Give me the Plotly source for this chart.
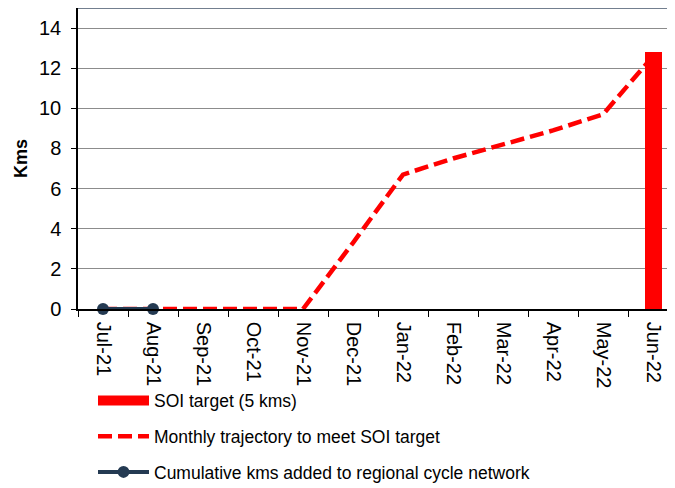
import plotly.graph_objects as go

months = ['Jul-21', 'Aug-21', 'Sep-21', 'Oct-21', 'Nov-21', 'Dec-21',
          'Jan-22', 'Feb-22', 'Mar-22', 'Apr-22', 'May-22', 'Jun-22']
soi_target = [None, None, None, None, None, None, None, None, None, None, None, 12.8]
trajectory = [0, 0, 0, 0, 0, 3.3, 6.7, 7.5, 8.2, 8.9, 9.7, 12.6]
cumulative = [0, 0]

FONT = 'Liberation Sans, Arial, sans-serif'
NAVY = '#243a52'

fig = go.Figure()

fig.add_trace(go.Bar(x=months, y=soi_target, width=0.34, marker=dict(color='#ff0000', line=dict(width=0)),
                     showlegend=False, name='SOI target (5 kms)'))
# legend-only entry so the key looks like a thick bar
fig.add_trace(go.Scatter(x=[None], y=[None], mode='lines', name='SOI target (5 kms)',
                         line=dict(color='#ff0000', width=10), legendgroup='a'))
fig.add_trace(go.Scatter(x=months, y=trajectory, mode='lines', name='Monthly trajectory to meet SOI target',
                         line=dict(color='#ff0000', width=4.5, dash='14px,6px'), legendgroup='b'))
fig.add_trace(go.Scatter(x=months[:len(cumulative)], y=cumulative, mode='lines+markers',
                         name='Cumulative kms added to regional cycle network',
                         line=dict(color=NAVY, width=4), marker=dict(color=NAVY, size=12),
                         legendgroup='c', cliponaxis=False))

# the page puts the figure 8px in from the top-left corner, margins allow for that
fig.update_layout(
    width=675, height=488,
    margin=dict(l=70, r=5, t=0, b=187),
    plot_bgcolor='white', paper_bgcolor='white',
    font=dict(family=FONT, size=20, color='black'),
    bargap=0,
    legend=dict(x=0.025, y=1 - 374.5 / 488, xref='paper', yref='container',
                xanchor='left', yanchor='top', orientation='v',
                font=dict(size=17.5), itemwidth=51, tracegroupgap=10,
                bgcolor='rgba(0,0,0,0)'),
    shapes=[dict(type='line', xref='paper', yref='paper', x0=0, x1=1, y0=1, y1=1,
                 line=dict(color='#44546a', width=1.5))],
)

fig.update_xaxes(type='category', categoryorder='array', categoryarray=months,
                 range=[-0.5, 11.5], tickangle=90, tickson='boundaries',
                 ticks='outside', ticklen=6, tickcolor='black', tickwidth=1,
                 ticklabelstandoff=7,
                 showline=True, linecolor='black', linewidth=1.5, showgrid=False,
                 automargin=False)
fig.update_yaxes(range=[0, 15], tickvals=list(range(0, 15, 2)),
                 ticks='outside', ticklen=5, tickcolor='black', tickwidth=1,
                 ticklabelstandoff=6,
                 showline=True, linecolor='black', linewidth=1.5,
                 showgrid=True, gridcolor='#8c8c8c', gridwidth=1.3, zeroline=False,
                 automargin=False,
                 title=dict(text='<b>Kms</b>', font=dict(size=18), standoff=7))

fig.write_html("out.html")
